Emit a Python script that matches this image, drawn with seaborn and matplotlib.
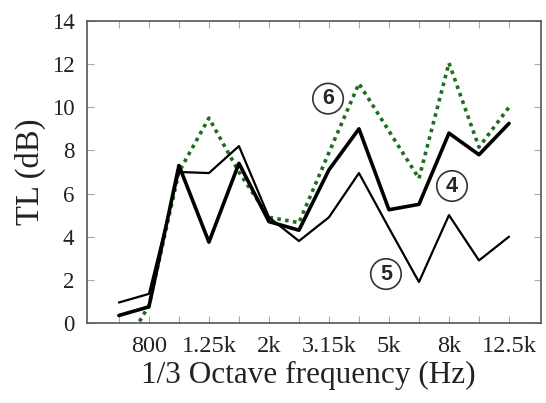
import seaborn as sns
import numpy as np
import pandas as pd
import matplotlib.pyplot as plt

freqs = ['630', '800', '1k', '1.25k', '1.6k', '2k', '2.5k', '3.15k', '4k', '5k', '6.3k', '8k', '10k', '12.5k']
tl_4 = [0.35, 0.75, 7.3, 3.75, 7.4, 4.7, 4.3, 7.1, 9.0, 5.25, 5.5, 8.8, 7.8, 9.25]
tl_5 = [0.95, 1.35, 7.0, 6.95, 8.2, 4.9, 3.8, 4.9, 6.95, 4.4, 1.9, 5.0, 2.9, 4.0]
tl_6 = [-1.5, 0.8, 7.0, 9.5, 7.0, 4.9, 4.65, 7.9, 11.1, 8.9, 6.7, 12.05, 8.15, 10.0]
tick_labels = ['800', '1.25k', '2k', '3.15k', '5k', '8k', '12.5k']

x = np.arange(len(freqs))
df = pd.DataFrame({'x': x, 'tl4': tl_4, 'tl5': tl_5, 'tl6': tl_6})

sns.set_style('ticks')
plt.rcParams['font.family'] = ['Liberation Serif', 'DejaVu Serif']

fig = plt.figure(figsize=(5.46, 4.03), dpi=100)
ax = fig.add_axes([0.159, 0.1985, 0.832, 0.7495])

sns.lineplot(x='x', y='tl6', data=df, ax=ax, color='#1f6e1f', lw=2.6, linestyle=(0, (1, 1.2)))
sns.lineplot(x='x', y='tl5', data=df, ax=ax, color='black', lw=1.6)
sns.lineplot(x='x', y='tl4', data=df, ax=ax, color='black', lw=2.6)

ax.set_xlim(-1.07, 14.07)
ax.set_ylim(0, 14)
ax.set_yticks(range(0, 15, 2))
ax.set_xticks(x)
ax.set_xticklabels(['' if f not in tick_labels else f for f in freqs])
ax.tick_params(direction='in', length=5, width=0.8, color='#aaaaaa',
               top=True, right=True, labelcolor='#222222')
ax.tick_params(axis='x', labelsize=17.5, pad=9)
ax.tick_params(axis='y', labelsize=16.5, pad=9)
for s in ax.spines.values():
    s.set_color('#555555')
    s.set_linewidth(1.2)

ax.set_xlabel('1/3 Octave frequency (Hz)', fontsize=22.5, color='#222222', labelpad=3)
ax.xaxis.set_label_coords(0.488, -0.125)
ax.set_ylabel('TL (dB)', fontsize=23.5, color='#222222', labelpad=4)

circ = dict(boxstyle='circle,pad=0.22', fc='white', ec='#333333', lw=1.2)
for lab, px, py in [('6', 6.97, 10.4), ('4', 11.1, 6.35), ('5', 8.9, 2.27)]:
    ax.text(px, py, lab, ha='center', va='center', fontsize=15.5, fontweight='bold',
            family=['Liberation Sans', 'DejaVu Sans'], bbox=circ)

fig.savefig('out.png', dpi=100)
